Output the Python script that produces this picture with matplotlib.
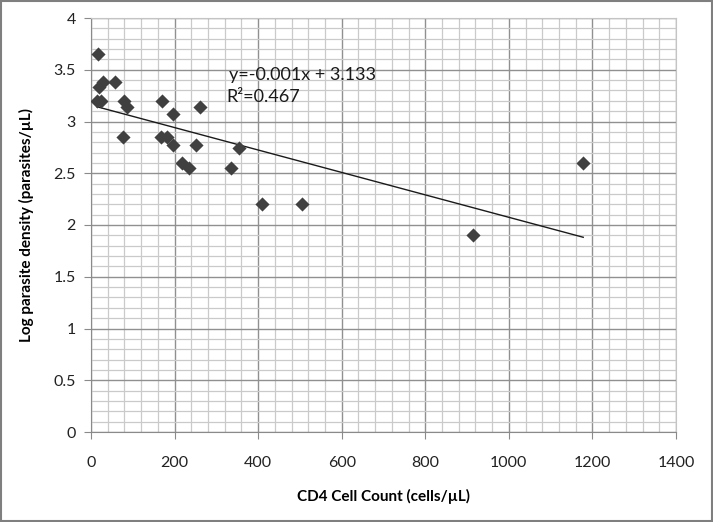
import numpy as np
import matplotlib
matplotlib.use("Agg")
import matplotlib.pyplot as plt
from matplotlib.ticker import MultipleLocator

cd4 = [17, 19, 14, 24, 29, 57, 80, 87, 77, 169, 168, 183, 197, 197, 217, 235,
       261, 251, 353, 335, 410, 504, 1178, 913]
log_density = [3.65, 3.33, 3.20, 3.20, 3.38, 3.38, 3.20, 3.14, 2.85, 3.20, 2.85, 2.85,
               3.07, 2.77, 2.60, 2.55, 3.14, 2.77, 2.74, 2.55, 2.20, 2.20, 2.60, 1.90]
equation_text = "y=-0.001x + 3.133"
r2_text = "R\u00b2=0.467"
xlabel = "CD4 Cell Count (cells/\u00b5L)"
ylabel = "Log parasite density (parasites/\u00b5L)"

plt.rcParams['font.family'] = ['Lato', 'DejaVu Sans']

fig = plt.figure(figsize=(7.13, 5.22), dpi=100)
ax = fig.add_axes([91/713, 1-432/522, (676-91)/713, (432-18)/522])

x = np.array(cd4, dtype=float)
y = np.array(log_density, dtype=float)

ax.set_xlim(0, 1400)
ax.set_ylim(0, 4)
ax.xaxis.set_major_locator(MultipleLocator(200))
ax.xaxis.set_minor_locator(MultipleLocator(40))
ax.yaxis.set_major_locator(MultipleLocator(0.5))
ax.yaxis.set_minor_locator(MultipleLocator(0.1))
ax.grid(which='minor', color='#cacaca', linewidth=0.9)
ax.grid(which='major', color='#909090', linewidth=1.0)
ax.set_axisbelow(True)

ax.scatter(x, y, marker='D', s=52, color='#404040', zorder=3, linewidths=0)

slope, intercept = np.polyfit(x, y, 1)
xs = np.array([x.min(), x.max()])
ax.plot(xs, slope*xs + intercept, color='#1a1a1a', linewidth=1.0, zorder=2)

ax.text(331, 3.45, equation_text, fontsize=13, color='#1a1a1a', va='center', ha='left')
ax.text(325, 3.24, r2_text, fontsize=13, color='#1a1a1a', va='center', ha='left')

for s in ['left', 'bottom']:
    ax.spines[s].set_color('#8a8a8a')
for s in ['top', 'right']:
    ax.spines[s].set_color('#c4c4c4')
ax.tick_params(which='major', direction='out', length=5, color='#8a8a8a',
               labelsize=11.5, labelcolor='#222222', pad=12)
ax.tick_params(axis='y', pad=6)
ax.tick_params(which='minor', length=0)
ax.set_xticklabels([f"{int(v)}" for v in ax.get_xticks()])
ax.set_yticklabels([f"{v:g}" for v in ax.get_yticks()])

ax.set_xlabel(xlabel, fontsize=11, fontweight='bold', labelpad=14)
ax.set_ylabel(ylabel, fontsize=11, fontweight='bold', labelpad=14)

fig.patches.append(plt.Rectangle((0.002, 0.002), 0.996, 0.996, transform=fig.transFigure,
                                 fill=False, edgecolor='#7f7f7f', linewidth=1.5))

fig.savefig("out.png", dpi=100)
